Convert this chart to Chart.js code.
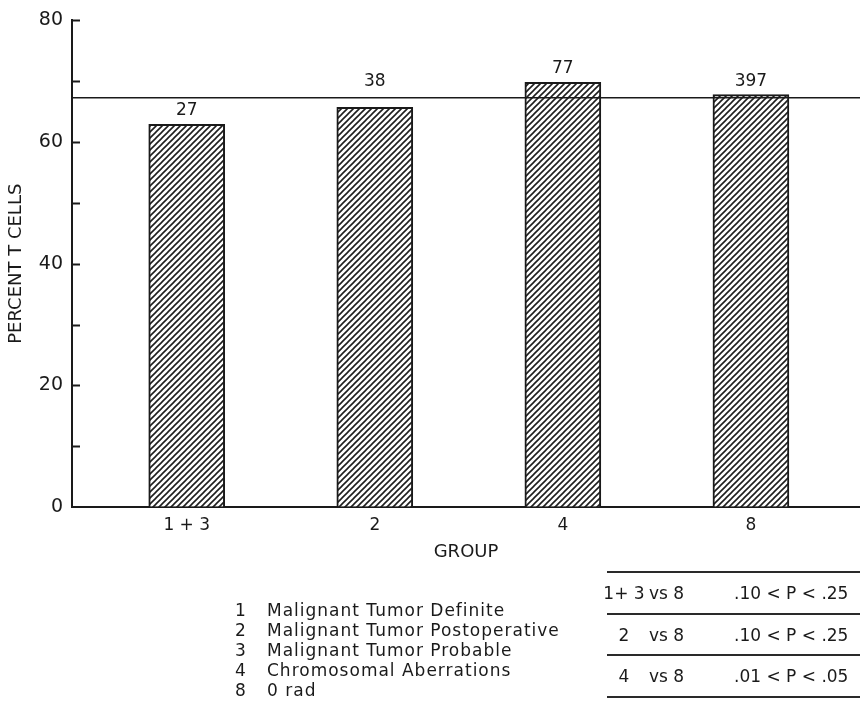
<!DOCTYPE html>
<html>
<head>
<meta charset="utf-8">
<script src="https://cdn.jsdelivr.net/npm/chart.js@4.4.1/dist/chart.umd.min.js"></script>
<style>
  body { margin: 0; background: #fff; }
  #wrap { position: relative; width: 860px; height: 703px; overflow: hidden; }
  #myChart { position: absolute; left: 0; top: 0; }
  .txt { position: absolute; font-family: "DejaVu Sans", sans-serif; color: #1a1a1a; white-space: nowrap; }
  .key { font-size: 17px; line-height: 20px; letter-spacing: 1px; }
  .prow { position: absolute; left: 607px; width: 260px; height: 40px; border-top: 2px solid #2a2a2a;
          font-family: "DejaVu Sans", sans-serif; font-size: 17px; line-height: 40px; color: #1a1a1a; white-space: nowrap; }
  .prow span { position: absolute; top: 0; }
</style>
</head>
<body>
<div id="wrap">
  <canvas id="myChart" width="860" height="703"></canvas>
  <div id="key"></div>
  <div id="ptable"></div>
</div>
<script>
// data
var groupLabels = ['1 + 3', '2', '4', '8'];
var groupPos = [1, 2, 3, 4];
var percentT = [62.9, 65.7, 69.8, 67.8];
var sampleSizes = [27, 38, 77, 397];
var controlLevel = 67.3;

var keyCodes = ['1', '2', '3', '4', '8'];
var keyNames = ['Malignant Tumor Definite', 'Malignant Tumor Postoperative',
                'Malignant Tumor Probable', 'Chromosomal Aberrations', '0 rad'];

var compGroups = ['1+ 3', '2', '4'];
var compAgainst = ['vs 8', 'vs 8', 'vs 8'];
var pRanges = ['.10 < P < .25', '.10 < P < .25', '.01 < P < .05'];

var xMin = 0.39, xMax = 4.58;
var ink = '#1a1a1a';
var font = 'DejaVu Sans';

// diagonal hatching for the bars
function hatch() {
    var s = 6;
    var c = document.createElement('canvas');
    c.width = s; c.height = s;
    var g = c.getContext('2d');
    g.fillStyle = '#fff';
    g.fillRect(0, 0, s, s);
    g.strokeStyle = '#1e1e1e';
    g.lineWidth = 1.6;
    g.beginPath();
    g.moveTo(-1, s + 1); g.lineTo(s + 1, -1);
    g.moveTo(-1, 1); g.lineTo(1, -1);
    g.moveTo(s - 1, s + 1); g.lineTo(s + 1, s - 1);
    g.stroke();
    return g.createPattern(c, 'repeat');
}

// small ticks pointing into the plot
var innerTicks = {
    id: 'innerTicks',
    afterDraw: function(chart) {
        var y = chart.scales.y, ctx = chart.ctx;
        ctx.save();
        ctx.strokeStyle = ink;
        ctx.lineWidth = 2;
        y.ticks.forEach(function(t) {
            if (t.value === 0) return;
            var py = Math.round(y.getPixelForValue(t.value)) + 0.5;
            ctx.beginPath();
            ctx.moveTo(y.right, py);
            ctx.lineTo(y.right + 8, py);
            ctx.stroke();
        });
        ctx.restore();
    }
};

// n above each bar
var countLabels = {
    id: 'countLabels',
    afterDatasetsDraw: function(chart) {
        var meta = chart.getDatasetMeta(1), ctx = chart.ctx;
        var lineY = chart.scales.y.getPixelForValue(controlLevel);
        ctx.save();
        ctx.font = '17px "' + font + '"';
        ctx.fillStyle = ink;
        ctx.textAlign = 'center';
        ctx.textBaseline = 'alphabetic';
        meta.data.forEach(function(bar, i) {
            var base = bar.y - 9;
            if (base > lineY - 3 && base - 14 < lineY + 3) base = lineY - 12;
            ctx.fillText(String(sampleSizes[i]), bar.x, base);
        });
        ctx.restore();
    }
};

var ctx = document.getElementById('myChart').getContext('2d');
var chart = new Chart(ctx, {
    type: 'bar',
    data: {
        datasets: [{
            type: 'line',
            label: 'control',
            data: [{x: xMin, y: controlLevel}, {x: xMax, y: controlLevel}],
            borderColor: ink,
            borderWidth: 1.5,
            pointRadius: 0,
            order: 0
        }, {
            label: 'Percent T cells',
            data: groupPos.map(function(x, i) { return {x: x, y: percentT[i]}; }),
            backgroundColor: hatch(),
            borderColor: ink,
            borderWidth: 2,
            barThickness: 76,
            order: 1
        }]
    },
    options: {
        responsive: false,
        animation: false,
        layout: { padding: { top: 15, right: 0, left: 0, bottom: 136 } },
        plugins: { legend: { display: false }, tooltip: { enabled: false } },
        scales: {
            x: {
                type: 'linear',
                offset: false,
                min: xMin,
                max: xMax,
                afterBuildTicks: function(scale) {
                    scale.ticks = groupPos.map(function(v) { return {value: v}; });
                },
                afterFit: function(scale) { scale.height = 60; },
                grid: { display: false, drawTicks: false },
                border: { display: true, color: ink, width: 2 },
                ticks: {
                    padding: 8,
                    color: ink,
                    font: { family: font, size: 17 },
                    maxRotation: 0,
                    callback: function(v) {
                        var k = groupPos.indexOf(v);
                        return k < 0 ? '' : groupLabels[k];
                    }
                },
                title: {
                    display: true,
                    text: 'GROUP',
                    color: ink,
                    font: { family: font, size: 18 },
                    padding: { top: 2 }
                }
            },
            y: {
                min: 0,
                max: 80,
                afterFit: function(scale) { scale.width = 72; },
                grid: { drawOnChartArea: false, drawTicks: false },
                border: { display: true, color: ink, width: 2 },
                ticks: {
                    stepSize: 10,
                    padding: 9,
                    color: ink,
                    font: { family: font, size: 19 },
                    callback: function(v) { return v % 20 === 0 ? v : ''; }
                },
                title: {
                    display: true,
                    text: 'PERCENT T CELLS',
                    color: ink,
                    font: { family: font, size: 18 },
                    padding: { top: 6, bottom: 0 }
                }
            }
        }
    },
    plugins: [innerTicks, countLabels]
});

// group key, bottom left
var key = document.getElementById('key');
keyCodes.forEach(function(c, i) {
    var top = 600 + i * 20;
    key.insertAdjacentHTML('beforeend',
        '<div class="txt key" style="left:235px;top:' + top + 'px">' + c + '</div>' +
        '<div class="txt key" style="left:267px;top:' + top + 'px">' + keyNames[i] + '</div>');
});

// comparison table, bottom right
var pt = document.getElementById('ptable');
compGroups.forEach(function(g, i) {
    var top = 571 + i * 41.5;
    var last = i === compGroups.length - 1 ? 'border-bottom:2px solid #2a2a2a;' : '';
    pt.insertAdjacentHTML('beforeend',
        '<div class="prow" style="top:' + top + 'px;' + last + '">' +
        '<span style="left:-4px;width:42px;text-align:center">' + g + '</span>' +
        '<span style="left:42px">' + compAgainst[i] + '</span>' +
        '<span style="left:127px">' + pRanges[i].replace(/</g, '&lt;') + '</span>' +
        '</div>');
});
</script>
</body>
</html>
